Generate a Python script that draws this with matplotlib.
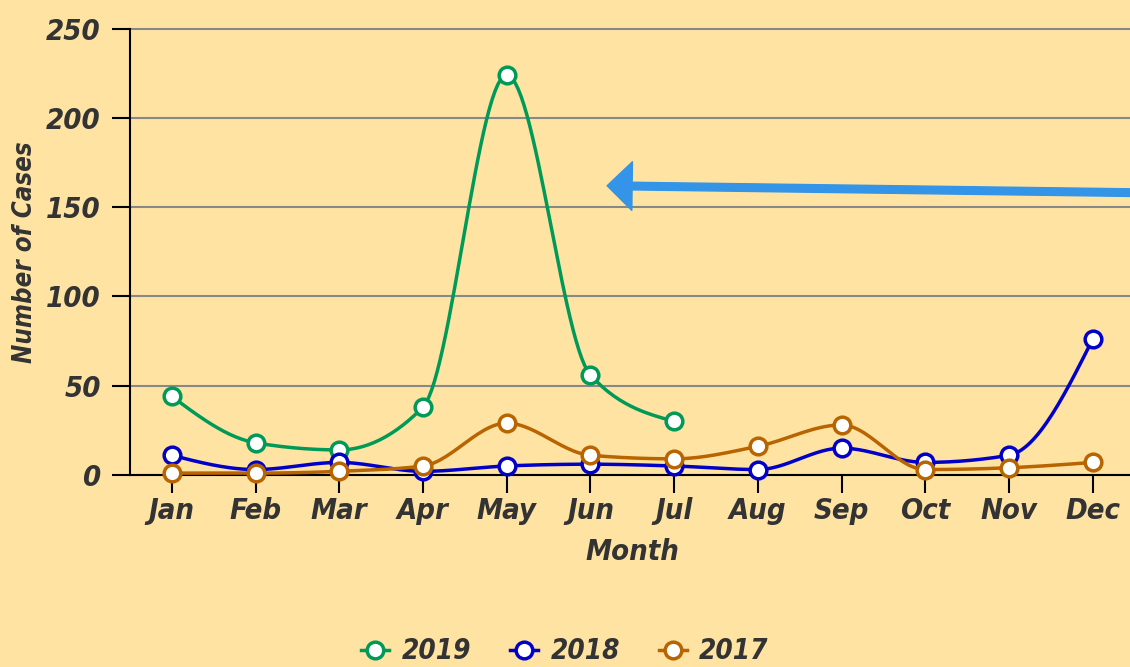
import matplotlib
matplotlib.use("Agg")
import matplotlib.pyplot as plt
import numpy as np
from matplotlib import font_manager

months = ["Jan", "Feb", "Mar", "Apr", "May", "Jun", "Jul", "Aug", "Sep", "Oct", "Nov", "Dec"]
cases_2019 = [44, 18, 14, 38, 224, 56, 30]
cases_2018 = [11, 3, 7, 2, 5, 6, 5, 3, 15, 7, 11, 76]
cases_2017 = [1, 1, 2, 5, 29, 11, 9, 16, 28, 3, 4, 7]

names = {f.name for f in font_manager.fontManager.ttflist}
if "Liberation Sans Narrow" in names:
    plt.rcParams["font.family"] = ["Liberation Sans Narrow", "DejaVu Sans"]
else:
    plt.rcParams["font.family"] = ["DejaVu Sans"]
    plt.rcParams["font.stretch"] = "condensed"
plt.rcParams["font.weight"] = "bold"
plt.rcParams["font.style"] = "italic"

BG = "#ffe3a3"
TXT = "#333333"


def monotone(y, n=30):
    # d3 curveMonotoneX style smoothing between the points
    y = np.asarray(y, float)
    x = np.arange(len(y), dtype=float)
    if len(y) < 3:
        return x, y
    d = np.diff(y)
    t = np.zeros(len(y))
    for i in range(1, len(y) - 1):
        s0, s1 = d[i - 1], d[i]
        p = (s0 + s1) / 2
        t[i] = (np.sign(s0) + np.sign(s1)) * min(abs(s0), abs(s1), 0.5 * abs(p))
    t[0] = (3 * d[0] - t[1]) / 2
    t[-1] = (3 * d[-1] - t[-2]) / 2
    xs, ys = [], []
    u = np.linspace(0, 1, n)
    for i in range(len(y) - 1):
        h00 = 2 * u**3 - 3 * u**2 + 1
        h10 = u**3 - 2 * u**2 + u
        h01 = -2 * u**3 + 3 * u**2
        h11 = u**3 - u**2
        xs.append(x[i] + u)
        ys.append(h00 * y[i] + h10 * t[i] + h01 * y[i + 1] + h11 * t[i + 1])
    return np.concatenate(xs), np.concatenate(ys)


fig = plt.figure(figsize=(11.3, 6.67), dpi=100, facecolor=BG)
ax = fig.add_axes([0.115, 0.288, 0.889, 0.669])
ax.set_facecolor(BG)

series = [("2019", cases_2019, "#009a58"),
          ("2018", cases_2018, "#0000c8"),
          ("2017", cases_2017, "#b86400")]

for i, (lab, vals, col) in enumerate(series):
    sx, sy = monotone(vals)
    ax.plot(sx, sy, color=col, lw=2.5, zorder=3 + i, solid_capstyle="round")
    ax.plot(np.arange(len(vals)), vals, ls="none", marker="o", ms=12,
            mfc="white", mec=col, mew=2.5, zorder=3 + i, clip_on=False)
    ax.plot([], [], color=col, lw=2.5, marker="o", ms=12, mfc="white",
            mec=col, mew=2.5, label=lab)

ax.set_xlim(-0.5, 11.5)
ax.set_ylim(0, 250)
ax.set_xticks(range(12))
ax.set_xticklabels(months)
ax.set_yticks([0, 50, 100, 150, 200, 250])

for s in ["top", "right"]:
    ax.spines[s].set_visible(False)
for s in ["left", "bottom"]:
    ax.spines[s].set_linewidth(1.5)
    ax.spines[s].set_color("black")
ax.spines["bottom"].set_zorder(2)

ax.yaxis.grid(True, color="#888888", lw=1.5)
for gl in ax.get_ygridlines():
    gl.set_clip_on(False)
ax.set_axisbelow(True)
ax.tick_params(axis="both", length=13, width=1.5, colors="black",
               labelcolor=TXT, labelsize=21)
ax.tick_params(axis="y", pad=8)
ax.tick_params(axis="x", pad=3)

ax.set_xlabel("Month", fontsize=21, fontweight="bold", color=TXT, labelpad=9)
ax.set_ylabel("Number of Cases", fontsize=18.5, fontweight="bold", color=TXT, labelpad=6)

ax.annotate("", xy=(5.2, 162), xytext=(11.7, 158), xycoords="data",
            arrowprops=dict(arrowstyle="simple,head_length=1.8,head_width=3.5,tail_width=0.55",
                            mutation_scale=10, color="#3394e8", shrinkA=0, shrinkB=0),
            annotation_clip=False, zorder=8)

leg = fig.legend(loc="lower center", bbox_to_anchor=(0.5, -0.035), ncol=3,
                 frameon=False, fontsize=20, handlelength=1.0, columnspacing=1.4,
                 handletextpad=0.45)
for t in leg.get_texts():
    t.set_color(TXT)

fig.savefig("out.png", dpi=100, facecolor=BG)
